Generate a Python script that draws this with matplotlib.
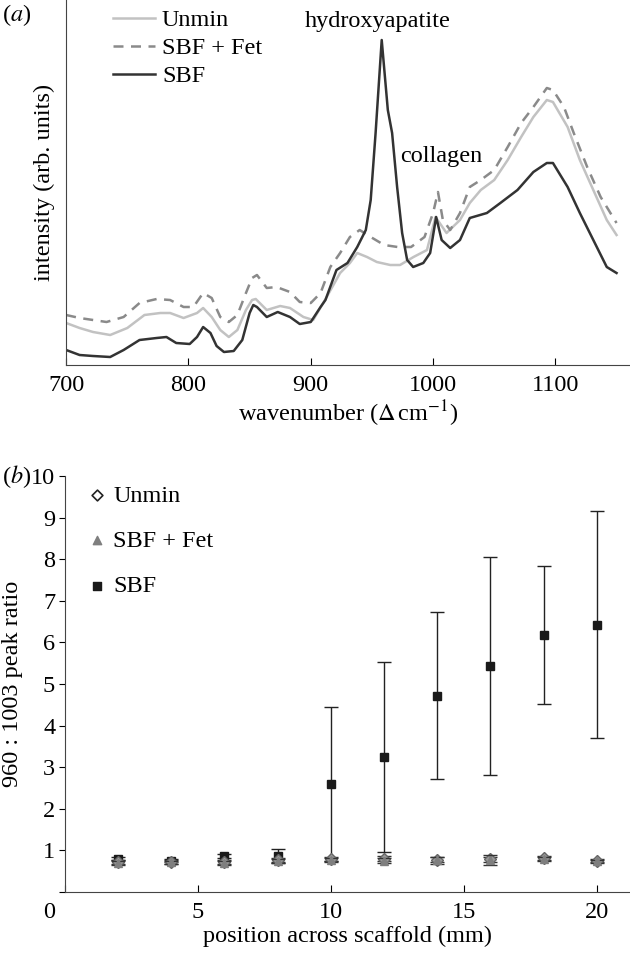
import numpy as np
import matplotlib
matplotlib.use("Agg")
import matplotlib.pyplot as plt

plt.rcParams["font.family"] = ["Liberation Serif", "DejaVu Serif"]
plt.rcParams["mathtext.fontset"] = "stix"
FS = 17.5

# === Panel (a): Raman spectra ===
wn_sbf = [700, 711, 722, 736, 747, 760, 774, 782, 790, 801, 807, 812, 818, 823, 829, 837,
          844, 850, 853, 856, 864, 873, 883, 891, 900, 908, 912, 921, 930, 938, 945, 949,
          953, 958, 963, 966.5, 970.6, 974.7, 978.8, 983.7, 992, 997.6, 1002.5, 1007,
          1014, 1022, 1030, 1044, 1055, 1069, 1082, 1093, 1098, 1110, 1120, 1131, 1142, 1150]
i_sbf = [15, 10, 9, 8, 15, 25, 27, 28, 22, 21, 28, 38, 32, 19, 13, 14,
         25, 52, 60, 58, 48, 53, 48, 41, 43, 58, 65, 95, 102, 118, 135, 165,
         232, 325, 255, 232, 178, 132, 105, 98, 102, 112, 148, 125,
         117, 125, 147, 152, 162, 175, 193, 202, 202, 178, 152, 125, 98, 92]

wn_unmin = [700, 711, 722, 736, 750, 764, 777, 785, 796, 807, 812, 819, 826, 833, 840, 847,
            852, 855, 864, 875, 883, 894, 902, 913, 924, 932, 938, 946, 954, 965, 973, 984,
            995, 1002, 1011, 1022, 1030, 1039, 1050, 1061, 1072, 1082, 1093, 1098, 1110,
            1120, 1131, 1142, 1150]
i_unmin = [42, 37, 33, 30, 37, 50, 52, 52, 47, 52, 57, 48, 35, 28, 35, 55,
           65, 66, 55, 59, 57, 48, 45, 68, 92, 102, 112, 108, 103, 100, 100, 108,
           115, 148, 132, 145, 162, 175, 185, 205, 228, 248, 265, 263, 238,
           205, 175, 145, 130]

wn_fet = [700, 711, 722, 733, 747, 760, 774, 785, 796, 804, 812, 819, 826, 833, 840, 847,
          852, 856, 864, 872, 883, 891, 900, 908, 916, 924, 932, 940, 949, 960, 971, 982,
          993, 1000, 1004, 1008, 1014, 1022, 1030, 1039, 1050, 1061, 1072, 1082, 1093,
          1098, 1107, 1115, 1126, 1137, 1150]
i_fet = [50, 47, 45, 43, 48, 62, 66, 65, 58, 58, 72, 67, 48, 43, 50, 72,
         87, 90, 77, 78, 73, 63, 62, 72, 98, 112, 128, 135, 128, 120, 118, 118,
         128, 152, 173, 145, 135, 152, 178, 185, 195, 218, 242, 258, 277,
         275, 258, 232, 198, 168, 142]

# === Panel (b): 960:1003 peak ratio ===
position = [2, 4, 6, 8, 10, 12, 14, 16, 18, 20]
ratio_unmin = [0.72, 0.72, 0.72, 0.77, 0.80, 0.80, 0.78, 0.79, 0.81, 0.75]
err_unmin = [0.04, 0.04, 0.04, 0.05, 0.05, 0.06, 0.06, 0.06, 0.05, 0.04]
ratio_fet = [0.70, 0.71, 0.70, 0.75, 0.77, 0.75, 0.76, 0.77, 0.79, 0.74]
err_fet = [0.04, 0.04, 0.04, 0.05, 0.05, 0.06, 0.08, 0.12, 0.05, 0.04]
ratio_sbf = [0.80, 0.75, 0.86, 0.86, 2.60, 3.25, 4.72, 5.43, 6.17, 6.43]
err_sbf = [0.04, 0.04, 0.05, 0.17, 1.85, 2.28, 2.0, 2.62, 1.66, 2.72]

c_unmin = "#c2c2c2"
c_fet = "#8a8a8a"
c_sbf = "#333333"

fig = plt.figure(figsize=(6.3, 9.57), dpi=100)

# --- (a) ---
ax1 = fig.add_axes([0.105, 0.6186, 0.895, 0.3814])
ax1.plot(wn_unmin, i_unmin, color=c_unmin, lw=1.8, label="Unmin")
ax1.plot(wn_fet, i_fet, color=c_fet, lw=1.8, ls=(0, (4, 3)), label="SBF + Fet")
ax1.plot(wn_sbf, i_sbf, color=c_sbf, lw=1.8, label="SBF")
ax1.set_xlim(700, 1161)
ax1.set_ylim(0, 365)
ax1.set_yticks([])
ax1.set_xticks([700, 800, 900, 1000, 1100])
ax1.tick_params(axis="x", direction="in", length=5, labelsize=FS, pad=7)
for s in ["top", "right"]:
    ax1.spines[s].set_visible(False)
for s in ["left", "bottom"]:
    ax1.spines[s].set_color("#444444")
ax1.set_xlabel(r"wavenumber ($\Delta\,$cm$^{-1}$)", fontsize=FS, labelpad=2)
ax1.set_ylabel("intensity (arb. units)", fontsize=FS, labelpad=8)
ax1.legend(loc="upper left", bbox_to_anchor=(0.045, 1.035), frameon=False, fontsize=FS,
           handlelength=1.7, handletextpad=0.3, labelspacing=0.25)
ax1.text(955, 343, "hydroxyapatite", ha="center", va="center", fontsize=FS)
ax1.text(1006.5, 208, "collagen", ha="center", va="center", fontsize=FS)
fig.text(0.003, 0.984, r"($a$)", fontsize=FS, va="center")

# --- (b) ---
ax2 = fig.add_axes([0.103, 0.0679, 0.897, 0.4347])
ax2.errorbar(position, ratio_sbf, yerr=err_sbf, fmt="s", color="#1a1a1a", ms=6,
             ecolor="#222222", elinewidth=1, capsize=5, capthick=1, zorder=2)
ax2.errorbar(position, ratio_unmin, yerr=err_unmin, fmt="D", mfc="#999999", mec="#666666",
             ms=6, ecolor="#333333", elinewidth=1, capsize=5, capthick=1, zorder=3)
ax2.errorbar(position, ratio_fet, yerr=err_fet, fmt="^", color="#7f7f7f", ms=6,
             ecolor="#333333", elinewidth=1, capsize=5, capthick=1, zorder=4)
# legend handles
h_unmin = ax2.scatter([], [], marker="D", s=30, facecolor="white", edgecolor="#222222", lw=1.2)
h_fet = ax2.scatter([], [], marker="^", s=36, color="#7f7f7f")
h_sbf = ax2.scatter([], [], marker="s", s=28, color="#1a1a1a")
ax2.legend([h_unmin, h_fet, h_sbf], ["Unmin", "SBF + Fet", "SBF"], loc="upper left",
           bbox_to_anchor=(0.01, 1.02), frameon=False, fontsize=FS, handlelength=0.8,
           handletextpad=0.25, labelspacing=0.95, borderaxespad=0.3)
ax2.set_xlim(0, 21.25)
ax2.set_ylim(0, 10)
ax2.set_xticks([0, 5, 10, 15, 20])
ax2.set_xticklabels(["", "5", "10", "15", "20"])
ax2.set_yticks(range(0, 11))
ax2.set_yticklabels(["", "1", "2", "3", "4", "5", "6", "7", "8", "9", "10"])
ax2.tick_params(axis="x", direction="in", length=5, labelsize=FS, pad=7)
ax2.tick_params(axis="y", direction="out", length=4, labelsize=FS, pad=3)
# the "0" label sits left of the origin in the original
ax2.annotate("0", xy=(0, 0), xycoords="data", xytext=(-11, -7), textcoords="offset points",
             ha="center", va="top", fontsize=FS, annotation_clip=False)
for s in ["top", "right"]:
    ax2.spines[s].set_visible(False)
for s in ["left", "bottom"]:
    ax2.spines[s].set_color("#444444")
ax2.set_xlabel("position across scaffold (mm)", fontsize=FS, labelpad=2)
ax2.set_ylabel("960 : 1003 peak ratio", fontsize=FS, labelpad=6)
fig.text(0.003, 0.502, r"($b$)", fontsize=FS, va="center")

fig.savefig("out.png", dpi=100)
